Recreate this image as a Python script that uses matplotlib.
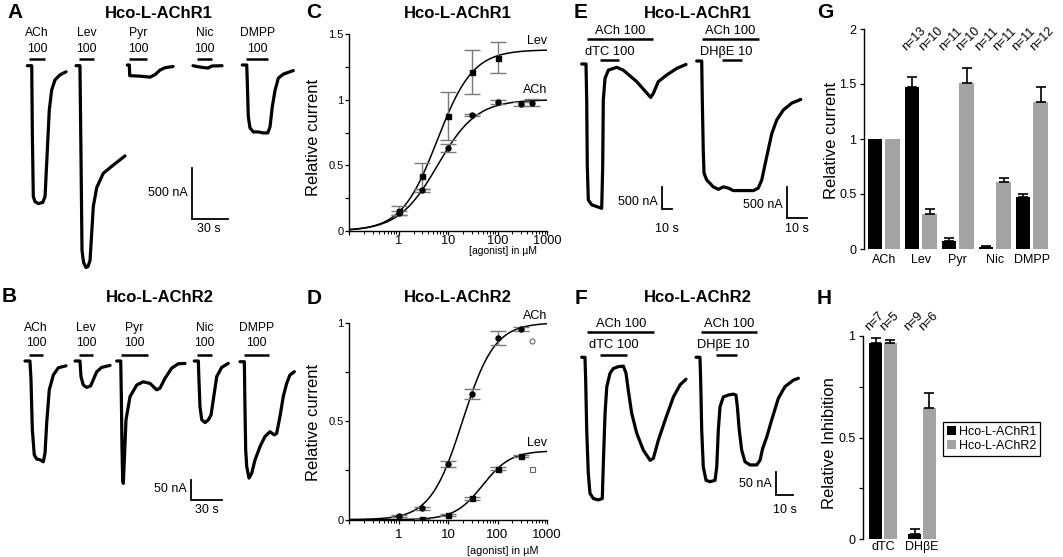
import numpy as np
import matplotlib
matplotlib.use('Agg')
import matplotlib.pyplot as plt
from matplotlib import transforms as mtransforms
from matplotlib.ticker import LogLocator, NullFormatter
from matplotlib.patches import Patch

plt.rcParams['font.family'] = ['Liberation Sans', 'DejaVu Sans']

# ------------------------------------------------------------------ DATA
# Panel A: Hco-L-AChR1 current traces (time in s, current in nA)
A_agonists = ['ACh', 'Lev', 'Pyr', 'Nic', 'DMPP']
A_dose = ['100', '100', '100', '100', '100']
A_ACh_t = [0, 3.7, 4.2, 5.0, 6.4, 9.2, 12.0, 12.8, 14.8, 16.7, 18.3, 20.3, 23.1, 27.3, 32.3]
A_ACh_I = [0, 0, -670, -1290, -1340, -1360, -1350, -1350, -1290, -830, -440, -240, -140, -90, -60]
A_Lev_t = [0, 3.3, 4.2, 5.0, 6.3, 8.3, 10.0, 11.7, 13.1, 14.4, 17.3, 22.8, 31.1, 40.8]
A_Lev_I = [0, 0, -930, -1820, -1940, -1990, -1980, -1920, -1650, -1390, -1200, -1060, -980, -890]
A_Pyr_t = [0, 1.7, 2.0, 10.6, 19.0, 23.1, 27.3, 31.4, 38.1]
A_Pyr_I = [0, 0, -105, -110, -120, -95, -50, -27, -15]
A_Nic_t = [0, 4.2, 8.3, 12.5, 15.8, 24.2]
A_Nic_I = [0, -10, -18, -23, -3, 0]
A_DMPP_t = [0, 3.7, 4.2, 5.0, 6.4, 9.2, 13.3, 17.5, 21.2, 23.1, 25.0, 27.3, 30.0, 34.2, 42.5]
A_DMPP_I = [0, 0, -180, -510, -620, -660, -660, -670, -670, -610, -410, -250, -130, -90, -55]
A_app_on = [1.4, 2.75, 1.4, 3.3, 3.1]
A_app_off = [14.75, 15.0, 16.4, 15.8, 21.7]

# Panel B: Hco-L-AChR2 current traces
B_agonists = ['ACh', 'Lev', 'Pyr', 'Nic', 'DMPP']
B_dose = ['100', '100', '100', '100', '100']
B_ACh_t = [0, 4.8, 5.8, 7.1, 9.0, 11.3, 14.5, 17.7, 19.4, 21.0, 23.5, 27.4, 32.2, 39.7]
B_ACh_I = [0, 0, -47, -172, -235, -245, -247, -252, -230, -155, -72, -35, -17, -12]
B_Lev_t = [0, 4.8, 5.8, 8.0, 11.3, 15.2, 17.7, 21.0, 25.8, 33.9]
B_Lev_I = [0, 0, -39, -60, -66, -62, -47, -27, -16, -11]
B_Pyr_t = [0, 3.9, 4.5, 5.1, 5.8, 6.4, 7.4, 9.0, 12.9, 19.4, 25.7, 32.2, 38.7, 41.9, 46.8, 53.2, 59.6, 66.1]
B_Pyr_I = [0, 0, -89, -214, -297, -306, -247, -147, -89, -60, -52, -56, -72, -68, -43, -18, -7, -6]
B_Nic_t = [0, 3.9, 4.5, 5.5, 7.2, 10.4, 13.6, 16.2, 18.4, 21.7, 26.5, 32.9]
B_Nic_I = [0, 0, -47, -114, -147, -154, -147, -135, -97, -39, -16, -6]
B_DMPP_t = [0, 4.2, 4.8, 5.5, 6.5, 8.7, 11.3, 14.5, 19.4, 24.2, 29.0, 33.2, 35.5, 38.7, 41.9, 45.2, 48.4, 52.6]
B_DMPP_I = [0, 0, -112, -220, -262, -291, -279, -246, -212, -187, -175, -183, -179, -137, -87, -54, -33, -25]
B_app_on = [3.9, 3.9, 4.2, 2.6, 3.9]
B_app_off = [17.4, 17.4, 30.3, 17.1, 28.1]

# Panel E: Hco-L-AChR1, ACh 100 with antagonists
E_dTC_t = [0, 4.3, 5.0, 5.6, 6.6, 10, 15, 20, 21, 21.6, 23.3, 26.6, 35, 41.6, 55, 69, 71.6, 76.6, 85, 95, 104.3]
E_dTC_I = [0, 0, -820, -2330, -3090, -3200, -3240, -3280, -2330, -820, -330, -140, -75, -140, -400, -760, -670, -400, -250, -100, -10]
E_DHbE_t = [0, 2.6, 2.9, 3.4, 3.8, 5.2, 8.6, 11.2, 13.8, 16.4, 19.0, 24.2, 29.4, 31.9, 33.7, 36.3, 38.9, 41.5, 44.9, 49.2, 53.9]
E_DHbE_I = [0, 0, -630, -1440, -1810, -1920, -2030, -2070, -2030, -2050, -2090, -2090, -2090, -2050, -1920, -1540, -1170, -950, -790, -680, -620]
E_ACh_on = [5.6, 2.6]
E_ACh_off = [71.0, 32.4]
E_blk_on = [18.3, 13.0]
E_blk_off = [37.6, 23.3]

# Panel F: Hco-L-AChR2, ACh 100 with antagonists
F_dTC_t = [0, 1.9, 2.3, 2.9, 3.8, 4.8, 6.7, 9.6, 11.9, 12.5, 13.5, 14.5, 16.4, 18.3, 21.2, 24.1, 25.6, 26.9,
           28.9, 31.8, 35.6, 39.5, 41.4, 44.3, 48.2, 53.0, 56.9, 60.3]
F_dTC_I = [0, 0, -49, -156, -249, -292, -303, -306, -303, -228, -120, -63, -34, -24, -20, -19, -34, -70,
           -120, -163, -199, -221, -217, -178, -135, -85, -59, -47]
F_DHbE_t = [0, 2.3, 2.7, 3.3, 4.2, 5.8, 8.1, 11.0, 12.0, 12.9, 13.9, 15.8, 18.7, 21.6, 23.1, 23.9, 25.0,
            26.4, 28.3, 31.2, 35.1, 37.0, 38.5, 40.9, 43.7, 47.6, 51.4, 56.3, 59.2]
F_DHbE_I = [0, 0, -49, -156, -235, -264, -267, -264, -235, -156, -106, -85, -81, -79, -81, -106, -156,
            -199, -224, -231, -231, -221, -196, -171, -135, -88, -63, -49, -45]
F_ACh_on = [3.2, 2.7]
F_ACh_off = [42.0, 35.4]
F_blk_on = [10.6, 11.6]
F_blk_off = [26.0, 23.9]
EF_blockers = ['dTC 100', 'DH\u03b2E 10']

# Scale bars (s, nA)
A_scale = (30, 500)
B_scale = (30, 50)
E_scale = (10, 500)
F_scale = (10, 50)

# Panel C: dose-response Hco-L-AChR1
C_Lev_conc = [1, 3, 10, 30, 100]
C_Lev_mean = [0.155, 0.42, 0.875, 1.21, 1.32]
C_Lev_sem = [0.035, 0.10, 0.185, 0.17, 0.12]
C_ACh_conc = [1, 3, 10, 30, 100, 300, 500]
C_ACh_mean = [0.135, 0.31, 0.635, 0.882, 0.984, 0.966, 0.978]
C_ACh_sem = [0.015, 0.01, 0.03, 0.01, 0.015, 0.015, 0.03]
C_Lev_fit = dict(Imax=1.38, EC50=6.0, nH=1.2)
C_ACh_fit = dict(Imax=1.0, EC50=6.1, nH=1.1)

# Panel D: dose-response Hco-L-AChR2
D_ACh_conc = [1, 3, 10, 30, 100, 300]
D_ACh_mean = [0.019, 0.058, 0.284, 0.64, 0.924, 0.968]
D_ACh_sem = [0.005, 0.008, 0.015, 0.025, 0.035, 0.008]
D_Lev_conc = [3, 10, 30, 100, 300]
D_Lev_mean = [0.003, 0.024, 0.108, 0.259, 0.325]
D_Lev_sem = [0.002, 0.004, 0.006, 0.006, 0.005]
D_ACh_extra = ([500], [0.905])
D_Lev_extra = ([500], [0.259])
D_ACh_fit = dict(Imax=1.0, EC50=19.5, nH=1.34)
D_Lev_fit = dict(Imax=0.35, EC50=50.0, nH=1.53)

# Panel G: relative current at 100 uM
G_agonists = ['ACh', 'Lev', 'Pyr', 'Nic', 'DMPP']
G_R1_mean = [1.0, 1.472, 0.076, 0.015, 0.476]
G_R1_sem = [0.0, 0.09, 0.021, 0.009, 0.024]
G_R2_mean = [1.0, 0.319, 1.508, 0.613, 1.335]
G_R2_sem = [0.0, 0.045, 0.137, 0.03, 0.137]
G_R1_n = ['', 'n=13', 'n=11', 'n=11', 'n=11']
G_R2_n = ['', 'n=10', 'n=10', 'n=11', 'n=12']

# Panel H: relative inhibition
H_antag = ['dTC', 'DH\u03b2E']
H_R1_mean = [0.967, 0.025]
H_R1_sem = [0.021, 0.023]
H_R2_mean = [0.964, 0.644]
H_R2_sem = [0.016, 0.076]
H_R1_n = ['n=7', 'n=9']
H_R2_n = ['n=5', 'n=6']
receptors = ['Hco-L-AChR1', 'Hco-L-AChR2']

# ------------------------------------------------------------------ LAYOUT
W, H = 1063, 557
fig = plt.figure(figsize=(W / 100, H / 100), dpi=100)
C_R1 = 'black'
C_R2 = '#a3a3a3'
TRACE_LW = 2.3


def px_rect(x0, y0, x1, y1):
    return [x0 / W, 1 - y1 / H, (x1 - x0) / W, (y1 - y0) / H]


def ftext(px, py, s, **kw):
    return fig.text(px / W, 1 - py / H, s, **kw)


def trace_ax(ox, oy, sx, sy):
    """axes whose (0 s, 0 nA) sits at pixel (ox, oy); sx px/s, sy px/nA"""
    ax = fig.add_axes(px_rect(ox, oy, ox + 100, oy + 100))
    ax.set_xlim(0, 100 / sx)
    ax.set_ylim(-100 / sy, 0)
    ax.set_axis_off()
    return ax


def draw_trace(ox, oy, sx, sy, t, I):
    ax = trace_ax(ox, oy, sx, sy)
    ax.plot(t, I, color='k', lw=TRACE_LW, solid_joinstyle='round',
            solid_capstyle='round', clip_on=False)
    return ax


def app_bar(ax, oy, sy, on, off, py, lw=1.8):
    y = -(py - oy) / sy
    ax.plot([on, off], [y, y], color='k', lw=lw, solid_capstyle='butt', clip_on=False)


def label_at(ax, xdata, py, s, size):
    tr = mtransforms.blended_transform_factory(ax.transData, fig.transFigure)
    ax.text(xdata, 1 - py / H, s, transform=tr, ha='center', va='center',
            fontsize=size, clip_on=False)


def scale_bar(cx, cy, sx, sy, tlen, ilen):
    ax = trace_ax(cx, cy, sx, sy)
    ax.plot([0, 0, tlen], [ilen, 0, 0], color='k', lw=1.3, clip_on=False,
            solid_joinstyle='miter')


# ---- panel letters and titles
for letter, (px, py) in {'A': (15, 13), 'B': (9, 297), 'C': (314, 13), 'D': (314, 298),
                         'E': (581, 13), 'F': (581, 298), 'G': (825, 13), 'H': (824, 298)}.items():
    ftext(px, py, letter, fontsize=15, fontweight='bold', ha='center', va='center')
for s, (px, py) in [(receptors[0], (159, 13)), (receptors[1], (160, 298)),
                    (receptors[0], (458, 13)), (receptors[1], (458, 298)),
                    (receptors[0], (698, 13)), (receptors[1], (698, 298))]:
    ftext(px, py, s, fontsize=12, fontweight='bold', ha='center', va='center')

# ---- Panel A
A_sx, A_sy = 1.2, 0.1014
A_orig = [(27.3, 65.7), (76, 65.7), (127.3, 65), (193, 65.7), (242.3, 65)]
A_traces = [(A_ACh_t, A_ACh_I), (A_Lev_t, A_Lev_I), (A_Pyr_t, A_Pyr_I), (A_Nic_t, A_Nic_I),
            (A_DMPP_t, A_DMPP_I)]
for k, ((ox, oy), (t, I)) in enumerate(zip(A_orig, A_traces)):
    ax = draw_trace(ox, oy, A_sx, A_sy, t, I)
    app_bar(ax, oy, A_sy, A_app_on[k], A_app_off[k], 59.3)
    xc = 0.5 * (A_app_on[k] + A_app_off[k])
    label_at(ax, xc, 33, A_agonists[k], 8.7)
    label_at(ax, xc, 49, A_dose[k], 8.7)
scale_bar(191.7, 219, A_sx, A_sy, *A_scale)
ftext(188, 193, f'{A_scale[1]} nA', fontsize=9, ha='right', va='center')
ftext(208.5, 229.5, f'{A_scale[0]} s', fontsize=9, ha='center', va='center')

# ---- Panel B
B_sx, B_sy = 1.033, 0.4
B_orig = [(25, 361), (75, 361), (116.7, 361), (194.3, 361), (240, 361.7)]
B_traces = [(B_ACh_t, B_ACh_I), (B_Lev_t, B_Lev_I), (B_Pyr_t, B_Pyr_I), (B_Nic_t, B_Nic_I),
            (B_DMPP_t, B_DMPP_I)]
for k, ((ox, oy), (t, I)) in enumerate(zip(B_orig, B_traces)):
    ax = draw_trace(ox, oy, B_sx, B_sy, t, I)
    app_bar(ax, oy, B_sy, B_app_on[k], B_app_off[k], 355)
    xc = 0.5 * (B_app_on[k] + B_app_off[k])
    label_at(ax, xc, 328, B_agonists[k], 8.7)
    label_at(ax, xc, 343.5, B_dose[k], 8.7)
scale_bar(190.7, 500, B_sx, B_sy, *B_scale)
ftext(187, 489, f'{B_scale[1]} nA', fontsize=9, ha='right', va='center')
ftext(206.5, 510, f'{B_scale[0]} s', fontsize=9, ha='center', va='center')

# ---- Panels E and F
EF_sets = [
    ((581.7, 64), 1.0, 0.044, E_dTC_t, E_dTC_I, E_ACh_on[0], E_ACh_off[0], E_blk_on[0], E_blk_off[0],
     39, 60, 30.7, 51.7, 0, 0),
    ((696.7, 61), 1.93, 0.062, E_DHbE_t, E_DHbE_I, E_ACh_on[1], E_ACh_off[1], E_blk_on[1], E_blk_off[1],
     39, 60, 30.7, 51.7, 1, -5),
    ((581.7, 357.3), 1.73, 0.466, F_dTC_t, F_dTC_I, F_ACh_on[0], F_ACh_off[0], F_blk_on[0], F_blk_off[0],
     332.3, 355, 324.3, 345, 0, 0),
    ((696, 357.3), 1.73, 0.466, F_DHbE_t, F_DHbE_I, F_ACh_on[1], F_ACh_off[1], F_blk_on[1], F_blk_off[1],
     332.3, 355, 324.3, 345, 1, -3),
]
for (ox, oy), sx, sy, t, I, on, off, bon, boff, yl, ys, yt1, yt2, bi, dx in EF_sets:
    ax = draw_trace(ox, oy, sx, sy, t, I)
    app_bar(ax, oy, sy, on, off, yl)
    app_bar(ax, oy, sy, bon, boff, ys)
    label_at(ax, 0.5 * (on + off), yt1, 'ACh 100', 9.3)
    label_at(ax, 0.5 * (bon + boff) + dx / sx, yt2, EF_blockers[bi], 9.3)

scale_bar(661.7, 209.3, 1.0, 0.044, *E_scale)
ftext(657.5, 202, f'{E_scale[1]} nA', fontsize=9, ha='right', va='center')
ftext(667, 229.5, f'{E_scale[0]} s', fontsize=9, ha='center', va='center')
scale_bar(787.3, 218.3, 1.93, 0.062, *E_scale)
ftext(783, 205, f'{E_scale[1]} nA', fontsize=9, ha='right', va='center')
ftext(797, 229.5, f'{E_scale[0]} s', fontsize=9, ha='center', va='center')
scale_bar(776, 495, 1.73, 0.466, *F_scale)
ftext(772, 484, f'{F_scale[1]} nA', fontsize=9, ha='right', va='center')
ftext(785, 510, f'{F_scale[0]} s', fontsize=9, ha='center', va='center')


# ---- Panels C and D
def hill(x, Imax, EC50, nH):
    return Imax / (1 + (EC50 / x) ** nH)


def style_dose(ax, ymax, yticks, ylabels, yminor, xpad, xsize):
    ax.set_xscale('log')
    ax.set_xlim(0.1, 1000)
    ax.set_ylim(0, ymax)
    for s in ['top', 'right']:
        ax.spines[s].set_visible(False)
    for s in ['left', 'bottom']:
        ax.spines[s].set_linewidth(1.0)
    ax.set_xticks([0.1, 1, 10, 100, 1000])
    ax.set_xticklabels(['', '1', '10', '100', '1000'], fontsize=xsize)
    ax.xaxis.set_minor_locator(LogLocator(base=10, subs=np.arange(2, 10)))
    ax.xaxis.set_minor_formatter(NullFormatter())
    ax.set_yticks(yticks)
    ax.set_yticklabels(ylabels, fontsize=8)
    ax.set_yticks(yminor, minor=True)
    ax.tick_params(axis='x', which='major', direction='out', length=3, width=0.9, pad=xpad)
    ax.tick_params(axis='x', which='minor', direction='out', length=1.8, width=0.7)
    ax.tick_params(axis='y', which='both', direction='out', length=3, width=0.9, pad=1)


xs = np.logspace(-1, 3, 300)
ERR_C = '#7a7a7a'

axC = fig.add_axes(px_rect(349.3, 34, 547, 231))
style_dose(axC, 1.5, [0, 0.5, 1, 1.5], ['0', '0.5', '1', '1.5'], [0.25, 0.75, 1.25], 0.0, 9.2)
axC.plot(xs, hill(xs, **C_Lev_fit), color='k', lw=1.1)
axC.plot(xs, hill(xs, **C_ACh_fit), color='k', lw=1.1)
axC.errorbar(C_Lev_conc, C_Lev_mean, yerr=C_Lev_sem, fmt='none', ecolor=ERR_C, elinewidth=1.0,
             capsize=5.5, capthick=1.0)
axC.errorbar(C_ACh_conc, C_ACh_mean, yerr=C_ACh_sem, fmt='none', ecolor=ERR_C, elinewidth=1.0,
             capsize=5.5, capthick=1.0)
axC.plot(C_Lev_conc, C_Lev_mean, 's', color='k', ms=3.6, zorder=5)
axC.plot(C_ACh_conc, C_ACh_mean, 'o', color='k', ms=3.6, zorder=5)
axC.text(1000, 1.445, 'Lev', ha='right', va='center', fontsize=9)
axC.text(1000, 1.07, 'ACh', ha='right', va='center', fontsize=9)
ftext(313, 137, 'Relative current', rotation=90, fontsize=12, ha='center', va='center')
ftext(503, 250.5, '[agonist] in \u00b5M', fontsize=7.5, ha='center', va='center')

axD = fig.add_axes(px_rect(349.3, 322.7, 547, 519.7))
style_dose(axD, 1.0, [0, 0.5, 1], ['0', '0.5', '1'], [0.25, 0.75], 4, 9.5)
axD.plot(xs, hill(xs, **D_ACh_fit), color='k', lw=1.1)
axD.plot(xs, hill(xs, **D_Lev_fit), color='k', lw=1.1)
axD.errorbar(D_ACh_conc, D_ACh_mean, yerr=D_ACh_sem, fmt='none', ecolor=ERR_C, elinewidth=1.0,
             capsize=5.5, capthick=1.0)
axD.errorbar(D_Lev_conc, D_Lev_mean, yerr=D_Lev_sem, fmt='none', ecolor=ERR_C, elinewidth=1.0,
             capsize=5.5, capthick=1.0)
axD.plot(D_ACh_conc, D_ACh_mean, 'o', color='k', ms=3.6, zorder=5)
axD.plot(D_Lev_conc, D_Lev_mean, 's', color='k', ms=3.6, zorder=5)
axD.plot(*D_ACh_extra, 'o', mfc='none', mec='#666666', mew=0.8, ms=3.6)
axD.plot(*D_Lev_extra, 's', mfc='none', mec='#666666', mew=0.8, ms=3.6)
axD.text(1000, 1.035, 'ACh', ha='right', va='center', fontsize=9)
axD.text(1000, 0.39, 'Lev', ha='right', va='center', fontsize=9)
ftext(313, 422, 'Relative current', rotation=90, fontsize=12, ha='center', va='center')
ftext(503, 550.5, '[agonist] in \u00b5M', fontsize=7.8, ha='center', va='center')


# ---- Panels G and H
def style_bar(ax, ymax, yticks, ylabels, yminor, xpad):
    for s in ['top', 'right', 'bottom']:
        ax.spines[s].set_visible(False)
    ax.spines['left'].set_linewidth(1.0)
    ax.set_ylim(0, ymax)
    ax.set_yticks(yticks)
    ax.set_yticklabels(ylabels, fontsize=9)
    if yminor:
        ax.set_yticks(yminor, minor=True)
    ax.tick_params(axis='y', which='both', direction='out', length=3, width=0.9, pad=2.5)
    ax.tick_params(axis='x', length=0, pad=xpad, labelsize=9)


def up_err(ax, x, m, e):
    x = np.asarray(x); m = np.asarray(m); e = np.asarray(e)
    keep = e > 0
    ax.errorbar(x[keep], m[keep], yerr=[np.zeros(keep.sum()), e[keep]], fmt='none',
                ecolor='k', elinewidth=1.2, capsize=3.5, capthick=1.2)


axG = fig.add_axes(px_rect(864, 29, 1050, 249))
xg = np.arange(len(G_agonists))
gw, go = 0.39, 0.235
axG.bar(xg - go, G_R1_mean, gw, color=C_R1)
axG.bar(xg + go, G_R2_mean, gw, color=C_R2)
up_err(axG, xg - go, G_R1_mean, G_R1_sem)
up_err(axG, xg + go, G_R2_mean, G_R2_sem)
axG.set_xlim(-0.54, 4.49)
style_bar(axG, 2, [0, 0.5, 1, 1.5, 2], ['0', '0.5', '1', '1.5', '2'], None, 3.5)
axG.set_xticks(xg)
axG.set_xticklabels(G_agonists)
for i in range(len(G_agonists)):
    for xx, s in [(xg[i] - go - 0.12, G_R1_n[i]), (xg[i] + go - 0.12, G_R2_n[i])]:
        if s:
            axG.text(xx, 1.78, s, rotation=45, rotation_mode='anchor', ha='left', va='bottom',
                     fontsize=9, clip_on=False)
ftext(831.5, 140, 'Relative current', rotation=90, fontsize=12, ha='center', va='center')

axH = fig.add_axes(px_rect(863, 336, 940, 539))
xh = np.arange(len(H_antag))
hw, ho = 0.34, 0.19
axH.bar(xh - ho, H_R1_mean, hw, color=C_R1)
axH.bar(xh + ho, H_R2_mean, hw, color=C_R2)
up_err(axH, xh - ho, H_R1_mean, H_R1_sem)
up_err(axH, xh + ho, H_R2_mean, H_R2_sem)
axH.set_xlim(-0.51, 1.46)
style_bar(axH, 1, [0, 0.5, 1], ['0', '0.5', '1'], [0.25, 0.75], 1.5)
axH.set_xticks(xh)
axH.set_xticklabels(H_antag)
for i in range(len(H_antag)):
    for xx, s in [(xh[i] - ho - 0.1, H_R1_n[i]), (xh[i] + ho - 0.1, H_R2_n[i])]:
        axH.text(xx, 1.012, s, rotation=45, rotation_mode='anchor', ha='left', va='bottom',
                 fontsize=9, clip_on=False)
ftext(830, 443, 'Relative Inhibition', rotation=90, fontsize=12, ha='center', va='center')

handles = [Patch(facecolor=C_R1, edgecolor='none'), Patch(facecolor=C_R2, edgecolor='none')]
leg = fig.legend(handles, receptors, loc='upper left', bbox_to_anchor=(943 / W, 1 - 422 / H),
                 fontsize=9, frameon=True, fancybox=False, edgecolor='k', framealpha=1,
                 handlelength=0.75, handleheight=0.75, handletextpad=0.2, borderpad=0.3,
                 labelspacing=0.2, borderaxespad=0)
leg.get_frame().set_linewidth(0.9)

fig.savefig('out.png', dpi=100)
